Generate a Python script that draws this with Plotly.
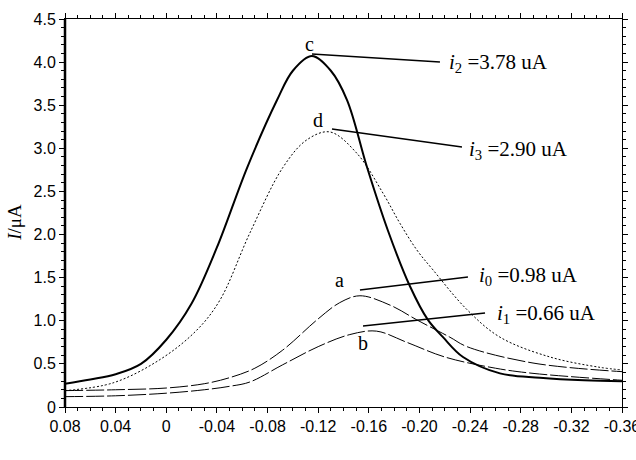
import plotly.graph_objects as go

# ---- data (potential in V, current in uA) ----
c_x = [0.08, 0.06, 0.04, 0.02, 0.0, -0.02, -0.040, -0.064, -0.0875, -0.100, -0.115, -0.130, -0.1428, -0.1586, -0.175, -0.1925, -0.2067, -0.2186, -0.2344, -0.2636, -0.2952, -0.33, -0.36]
c_y = [0.27, 0.32, 0.38, 0.50, 0.78, 1.20, 1.85, 2.78, 3.56, 3.90, 4.07, 3.90, 3.56, 2.78, 2.05, 1.40, 1.01, 0.81, 0.58, 0.39, 0.34, 0.31, 0.30]

d_x = [0.08, 0.042, 0.005, -0.024, -0.0424, -0.0661, -0.0922, -0.1112, -0.1293, -0.1507, -0.1712, -0.1846, -0.198, -0.2107, -0.2375, -0.2636, -0.3031, -0.3426, -0.36]
d_y = [0.19, 0.28, 0.55, 0.89, 1.24, 2.02, 2.78, 3.10, 3.19, 2.94, 2.48, 2.13, 1.82, 1.59, 1.13, 0.81, 0.58, 0.46, 0.43]

a_x = [0.08, 0.04, 0.0, -0.03, -0.05, -0.07, -0.092, -0.119, -0.137, -0.153, -0.177, -0.198, -0.224, -0.2375, -0.2897, -0.36]
a_y = [0.19, 0.20, 0.22, 0.27, 0.34, 0.45, 0.66, 1.01, 1.21, 1.29, 1.18, 1.01, 0.81, 0.70, 0.51, 0.41]

b_x = [0.08, 0.04, 0.0, -0.03, -0.05, -0.066, -0.092, -0.12, -0.145, -0.166, -0.190, -0.22, -0.26, -0.2897, -0.36]
b_y = [0.12, 0.13, 0.16, 0.20, 0.24, 0.29, 0.49, 0.70, 0.84, 0.88, 0.75, 0.58, 0.45, 0.39, 0.31]

x_tickvals = [0.08, 0.04, 0, -0.04, -0.08, -0.12, -0.16, -0.20, -0.24, -0.28, -0.32, -0.36]
x_ticktext = ["0.08", "0.04", "0", "-0.04", "-0.08", "-0.12", "-0.16", "-0.20", "-0.24", "-0.28", "-0.32", "-0.36"]
y_tickvals = [0, 0.5, 1.0, 1.5, 2.0, 2.5, 3.0, 3.5, 4.0, 4.5]
y_ticktext = ["0", "0.5", "1.0", "1.5", "2.0", "2.5", "3.0", "3.5", "4.0", "4.5"]

# annotation: (label, label_x, label_y, line start x, y, line end x, y, text x, y, text)
labels = [
    ("c", -0.1135, 4.21, -0.1151, 4.095, -0.2162, 4.00, -0.2217, 3.99, "<i>i</i><sub>2</sub> =3.78 uA"),
    ("d", -0.1198, 3.33, -0.1309, 3.225, -0.2336, 3.016, -0.2375, 2.98, "<i>i</i><sub>3</sub> =2.90 uA"),
    ("a", -0.137, 1.47, -0.153, 1.357, -0.2383, 1.508, -0.2454, 1.52, "<i>i</i><sub>0</sub> =0.98 uA"),
    ("b", -0.1554, 0.74, -0.1554, 0.94, -0.2518, 1.09, -0.2597, 1.08, "<i>i</i><sub>1</sub> =0.66 uA"),
]

fig = go.Figure()
fig.add_trace(go.Scatter(x=b_x, y=b_y, mode="lines", line=dict(color="black", width=1, dash="18px,3px", shape="spline", smoothing=1)))
fig.add_trace(go.Scatter(x=a_x, y=a_y, mode="lines", line=dict(color="black", width=1, dash="18px,3px", shape="spline", smoothing=1)))
fig.add_trace(go.Scatter(x=d_x, y=d_y, mode="lines", line=dict(color="black", width=1, dash="2px,2px", shape="spline", smoothing=1)))
fig.add_trace(go.Scatter(x=c_x, y=c_y, mode="lines", line=dict(color="black", width=2, shape="spline", smoothing=1)))

serif = "Liberation Serif, Times New Roman, serif"
for lab, lx, ly, x0, y0, x1, y1, tx, ty, txt in labels:
    fig.add_annotation(x=lx, y=ly, text=lab, showarrow=False, xanchor="center", yanchor="middle",
                       font=dict(family=serif, size=20, color="black"))
    fig.add_shape(type="line", x0=x0, y0=y0, x1=x1, y1=y1, xref="x", yref="y",
                  line=dict(color="black", width=1.5))
    fig.add_annotation(x=tx, y=ty, text=txt, showarrow=False, xanchor="left", yanchor="middle",
                       font=dict(family=serif, size=21, color="black"))

# y-axis title
fig.add_annotation(xref="paper", yref="paper", x=-0.09, y=0.477, text="<i>I</i>/μA", textangle=-90,
                   showarrow=False, xanchor="center", yanchor="middle",
                   font=dict(family=serif, size=19, color="black"))

# thicker left axis
fig.add_shape(type="line", xref="paper", yref="paper", x0=0, x1=0, y0=0, y1=1,
              line=dict(color="black", width=2.5))

tickfont = dict(family="Liberation Sans Narrow, Arial Narrow, Liberation Sans, sans-serif", size=16, color="black")
fig.update_xaxes(range=[0.08, -0.36], tickvals=x_tickvals, ticktext=x_ticktext, showgrid=False, zeroline=False,
                 showline=True, linecolor="black", linewidth=1, mirror="ticks", ticks="outside", ticklen=5,
                 tickcolor="black", tickfont=tickfont, ticklabeloverflow="allow", automargin=False,
                 minor=dict(dtick=0.01, tick0=0, ticks="outside", ticklen=3, tickcolor="black", showgrid=False))
fig.update_yaxes(range=[0, 4.5], tickvals=y_tickvals, ticktext=y_ticktext, showgrid=False, zeroline=False,
                 showline=True, linecolor="black", linewidth=1, mirror="ticks", ticks="outside", ticklen=5,
                 tickcolor="black", tickfont=tickfont, automargin=False,
                 minor=dict(dtick=0.1, tick0=0, ticks="outside", ticklen=3, tickcolor="black", showgrid=False))
fig.update_layout(width=636, height=460, margin=dict(l=65, r=14, t=19, b=53),
                  paper_bgcolor="white", plot_bgcolor="white", showlegend=False)
fig.write_html("out.html")
